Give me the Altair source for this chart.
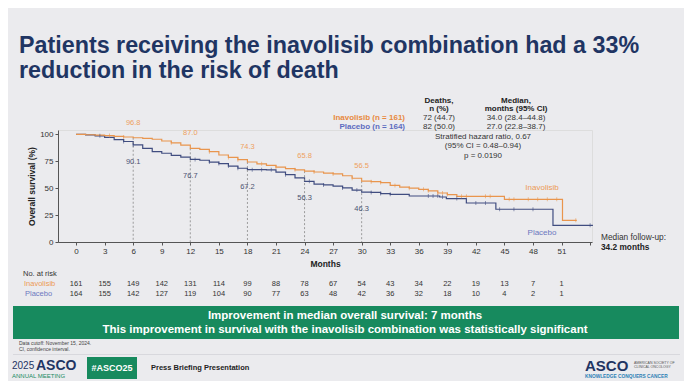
import altair as alt
import pandas as pd

# ---------------- data ----------------
inav_months = [0, 1, 2, 3, 4, 5, 6, 7, 8, 9, 10, 11, 12, 13, 14, 15, 16, 17, 18, 19, 20,
               21, 22, 23, 24, 25, 26, 27, 28, 29, 30, 31, 32, 33, 34, 35, 36, 37, 38,
               39, 40, 45, 51.1, 52.6]
inav_surv = [100, 99.6, 99.2, 98.8, 98.1, 97.5, 96.8, 96.2, 95.4, 93.8, 92.1, 90.0, 87.0,
             86.0, 83.9, 80.8, 78.5, 76.4, 74.3, 72.6, 71.2, 69.6, 68.2, 67.0, 65.8, 65.0,
             64.0, 63.2, 61.5, 59.2, 56.5, 56.0, 55.2, 52.5, 51.0, 50.0, 48.9, 47.5, 45.5,
             44.0, 42.4, 39.6, 20.1, 20.1]

plac_months = [0, 1, 2, 3, 4, 5, 6, 7, 8, 9, 10, 11, 12, 13, 14, 15, 16, 17, 18, 20, 21,
               22, 23, 24, 25, 26, 27, 28, 29, 30, 31, 32, 33, 35, 38.2, 38.9, 41, 44.1,
               50.1, 54.3]
plac_surv = [100, 99.4, 98.6, 97.2, 95.0, 93.3, 90.1, 87.0, 84.0, 82.4, 80.5, 78.8, 76.7,
             75.9, 74.2, 72.8, 70.5, 68.5, 67.2, 67.0, 64.8, 62.5, 59.5, 56.3, 53.8, 53.0,
             51.8, 50.2, 48.2, 46.3, 46.0, 45.0, 44.3, 42.7, 41.8, 40.3, 36.2, 30.4, 15.5,
             15.5]

inav_censor = [3.5, 5, 10, 14, 16, 17, 19.5, 21, 23, 25, 27, 29, 31, 32, 33.5, 35, 36.5,
               37, 38, 38.5, 39, 40.5, 41, 43, 43.5, 45.5, 46, 47.5, 48.5, 49.5, 50.5, 52.5]
plac_censor = [2.5, 5, 6, 12.5, 14, 15, 16, 17, 18.5, 19.5, 20.5, 22, 24.5, 26, 28, 29.5,
               31, 32, 33, 37, 37.5, 38, 38.5, 40, 42, 43, 44.5, 46, 48, 54]

landmark_months = [6, 12, 18, 24, 30]
landmark_inav = [96.8, 87.0, 74.3, 65.8, 56.5]
landmark_plac = [90.1, 76.7, 67.2, 56.3, 46.3]

risk_months = list(range(0, 52, 3))
risk_inav = [161, 155, 149, 142, 131, 114, 99, 88, 78, 67, 54, 43, 34, 22, 19, 13, 7, 1]
risk_plac = [164, 155, 142, 127, 119, 104, 90, 77, 63, 48, 42, 36, 32, 18, 10, 4, 2, 1]

x_ticks = list(range(0, 55, 3))
y_ticks = [0, 25, 50, 75, 100]

# ---------------- frames ----------------
inav_df = pd.DataFrame({"month": inav_months, "surv": inav_surv})
plac_df = pd.DataFrame({"month": plac_months, "surv": plac_surv})


def censor_frame(times, steps):
    c = pd.DataFrame({"month": times}).sort_values("month")
    return pd.merge_asof(c, steps.sort_values("month"), on="month")


inav_c = censor_frame(inav_censor, inav_df)
plac_c = censor_frame(plac_censor, plac_df)
land_df = pd.DataFrame({"month": landmark_months, "inav": landmark_inav, "plac": landmark_plac})
risk_df = pd.DataFrame({"month": risk_months, "inav": risk_inav, "plac": risk_plac})

# ---------------- layout constants ----------------
OX, OY = 58, 130          # page position of plot origin
W, H = 534, 112
ORANGE = "#e9954d"
NAVY = "#404d80"
BLUE_TXT = "#5d6cc0"
GREEN = "#178a5e"
TITLE = "#1f3563"
FONT = "Liberation Sans"

xs = alt.Scale(domain=[-1.9, 54.2], nice=False, zero=False)
ys = alt.Scale(domain=[0, 104], nice=False, zero=False)
one = pd.DataFrame({"a": [0]})


def txt(s, x, y, size=8, color="#333333", weight="normal", align="left"):
    return alt.Chart(one).mark_text(
        text=s, fontSize=size, color=color, fontWeight=weight, align=align,
        baseline="middle", font=FONT
    ).encode(x=alt.value(x - OX), y=alt.value(y - OY))


def rect(x0, y0, x1, y1, color):
    return alt.Chart(one).mark_rect(color=color).encode(
        x=alt.value(x0 - OX), x2=alt.value(x1 - OX),
        y=alt.value(y0 - OY), y2=alt.value(y1 - OY))


def hline(x0, x1, y, color):
    return alt.Chart(one).mark_rule(color=color, strokeWidth=0.8).encode(
        x=alt.value(x0 - OX), x2=alt.value(x1 - OX), y=alt.value(y - OY))


x_axis = alt.Axis(
    values=x_ticks, labelExpr="datum.value > 51 ? '' : datum.label", title="Months",
    grid=False, tickSize=3, labelPadding=2, labelFontSize=8, labelColor="#333333",
    labelOverlap=False, labelFlush=False, format="d",
    domainColor="#555555", tickColor="#555555", titleFontSize=8.5, titleFontWeight="bold",
    titleColor="#222222", titlePadding=4, labelFont=FONT, titleFont=FONT)
y_axis = alt.Axis(
    values=y_ticks, title="Overall survival (%)", grid=False, tickSize=3, labelPadding=2,
    labelOverlap=False, labelFlush=False, format="d",
    labelFontSize=8, labelColor="#333333", domainColor="#555555", tickColor="#555555",
    titleFontSize=8.5, titleFontWeight="bold", titleColor="#222222", titlePadding=3,
    labelFont=FONT, titleFont=FONT)

XX = alt.X("month:Q", scale=xs, axis=x_axis)


def YY(field):
    return alt.Y(f"{field}:Q", scale=ys, axis=y_axis)


plac_line = alt.Chart(plac_df).mark_line(interpolate="step-after", color=NAVY, strokeWidth=1.2).encode(x=XX, y=YY("surv"))
inav_line = alt.Chart(inav_df).mark_line(interpolate="step-after", color=ORANGE, strokeWidth=1.2).encode(x=XX, y=YY("surv"))

rules = alt.Chart(land_df).mark_rule(color="#888888", strokeDash=[2, 2], strokeWidth=0.8).encode(
    x=XX, y=YY("inav"), y2=alt.datum(0))

plac_cens = alt.Chart(plac_c).mark_tick(orient="vertical", size=4, thickness=0.8, color=NAVY).encode(
    x=XX, y=YY("surv"))
inav_cens = alt.Chart(inav_c).mark_tick(orient="vertical", size=4, thickness=0.8, color=ORANGE).encode(
    x=XX, y=YY("surv"))

inav_lab = alt.Chart(land_df).mark_text(fontSize=7.5, color="#eea15f", dy=-15, font=FONT).encode(
    x=XX, y=YY("inav"), text=alt.Text("inav:Q", format=".1f"))
plac_lab = alt.Chart(land_df).mark_text(fontSize=7.5, color="#4b5373", dy=17, font=FONT).encode(
    x=XX, y=YY("plac"), text=alt.Text("plac:Q", format=".1f"))

risk_i = alt.Chart(risk_df).mark_text(fontSize=7.5, color="#333333", font=FONT).encode(
    x=XX, y=alt.value(283.5 - OY), text="inav:Q")
risk_p = alt.Chart(risk_df).mark_text(fontSize=7.5, color="#333333", font=FONT).encode(
    x=XX, y=alt.value(293.5 - OY), text="plac:Q")

layers = [
    plac_line,
    rect(13, 306, 679, 339, GREEN),
    hline(13, 680, 354.5, "#d3d3d8"),
    rect(87, 357, 137, 379, GREEN),
    rules, inav_line, plac_cens, inav_cens, inav_lab, plac_lab, risk_i, risk_p,
    txt("Patients receiving the inavolisib combination had a 33%", 19, 46, 23.3, TITLE, "bold"),
    txt("reduction in the risk of death", 19, 71, 23.3, TITLE, "bold"),
    txt("Deaths,", 439, 100.5, 8, "#222222", "bold", "center"),
    txt("n (%)", 439, 108.5, 8, "#222222", "bold", "center"),
    txt("Median,", 516, 100.5, 8, "#222222", "bold", "center"),
    txt("months (95% CI)", 516, 108.5, 8, "#222222", "bold", "center"),
    txt("Inavolisib (n = 161)", 405, 117.5, 8, "#e8893e", "bold", "right"),
    txt("Placebo (n = 164)", 405, 127, 8, BLUE_TXT, "bold", "right"),
    txt("72 (44.7)", 439, 117.5, 8, "#333333", "normal", "center"),
    txt("82 (50.0)", 439, 127, 8, "#333333", "normal", "center"),
    txt("34.0 (28.4\u201344.8)", 516, 117.5, 8, "#333333", "normal", "center"),
    txt("27.0 (22.8\u201338.7)", 516, 127, 8, "#333333", "normal", "center"),
    txt("Stratified hazard ratio, 0.67", 483, 136.5, 8, "#333333", "normal", "center"),
    txt("(95% CI = 0.48\u20130.94)", 483, 146, 8, "#333333", "normal", "center"),
    txt("p = 0.0190", 483, 155.5, 8, "#333333", "normal", "center"),
    txt("Inavolisib", 542, 188, 8, "#eb9a55", "normal", "center"),
    txt("Placebo", 542, 233, 8, "#6b78c0", "normal", "center"),
    txt("Median follow-up:", 601, 237.5, 8.3, "#333333", "normal", "left"),
    txt("34.2 months", 601, 248, 8.3, "#222222", "bold", "left"),
    txt("No. at risk", 23, 274, 7.5, "#333333"),
    txt("Inavolisib", 24, 283.5, 7.5, "#eb9a55"),
    txt("Placebo", 25, 293.5, 7.5, "#6b78c0"),
    txt("Improvement in median overall survival: 7 months", 345, 315.5, 11.5, "white", "bold", "center"),
    txt("This improvement in survival with the inavolisib combination was statistically significant",
        345, 330, 11.5, "white", "bold", "center"),
    txt("Data cutoff: November 15, 2024.", 19, 342.5, 5, "#444444"),
    txt("CI, confidence interval.", 19, 348.5, 5, "#444444"),
    txt("2025", 12, 366, 10, TITLE, "normal"),
    txt("ASCO", 36, 365.5, 14, TITLE, "bold"),
    txt("ANNUAL MEETING", 12, 376, 6, GREEN, "normal"),
    txt("#ASCO25", 112, 368, 9, "white", "bold", "center"),
    txt("Press Briefing Presentation", 151, 368, 7.5, "#222222", "bold"),
    txt("ASCO", 585, 366, 15, TITLE, "bold"),
    txt("AMERICAN SOCIETY OF", 634, 362.5, 3.5, "#555555"),
    txt("CLINICAL ONCOLOGY", 634, 367, 3.5, "#555555"),
    txt("KNOWLEDGE CONQUERS CANCER", 585, 377, 4.8, "#2b7fb5", "bold"),
]

chart = alt.layer(*layers).properties(
    width=W, height=H,
    autosize=alt.AutoSizeParams(type="none"),
    padding={"left": OX - 8, "top": OY - 8, "right": 676 - (OX - 8) - W, "bottom": 373 - (OY - 8) - H},
    background="#ebebee",
).configure_view(stroke=None).configure(font=FONT)

chart.save("out.html", embed_options={"renderer": "svg", "actions": False})
